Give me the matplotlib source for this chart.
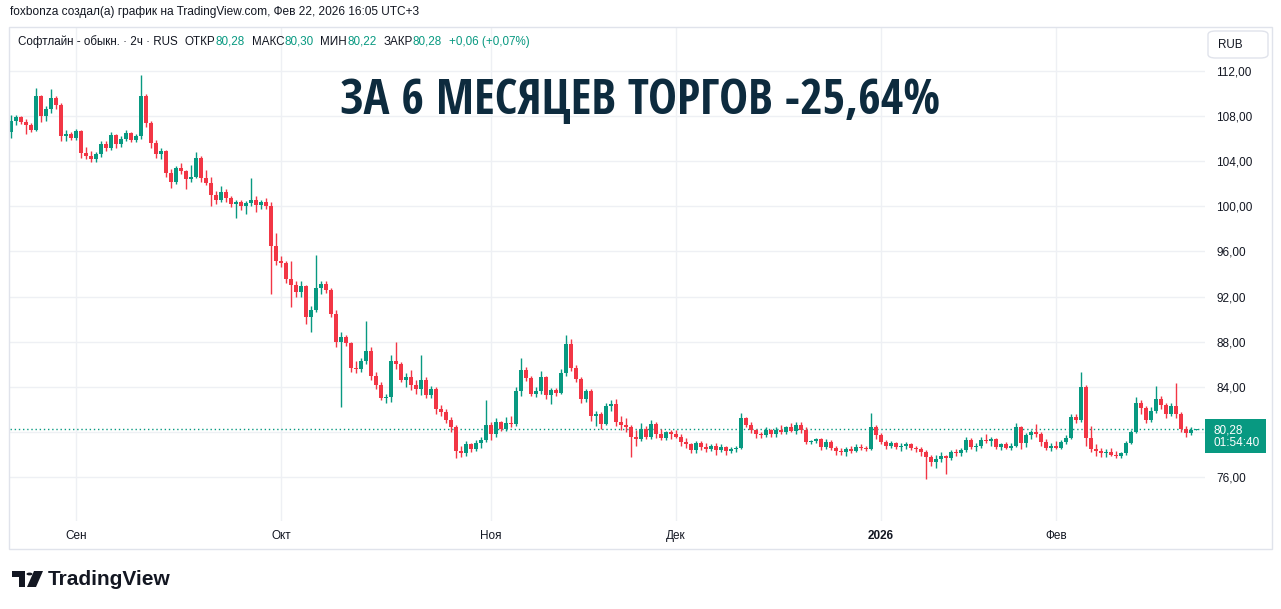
import matplotlib
matplotlib.use('Agg')
import matplotlib.pyplot as plt
import numpy as np
from matplotlib import font_manager as fm
from matplotlib.patches import FancyBboxPatch, Rectangle, Polygon, Circle
from matplotlib.ticker import FuncFormatter

# ---- data: 2h candles, Софтлайн (SOFL), Aug 2025 - Feb 2026 ----
opens = [
    106.6, 107.6, 107.9, 107.5, 107.2, 106.8, 109.8, 108.0, 108.6, 109.6,
    109.0, 106.2, 106.4, 106.1, 106.7, 104.7, 104.5, 104.2, 104.6, 105.5,
    105.2, 106.3, 105.5, 106.0, 106.5, 105.9, 106.2, 109.8, 107.4, 105.6,
    104.6, 104.9, 103.0, 102.2, 103.4, 103.1, 102.4, 102.6, 104.3, 102.5,
    102.1, 101.0, 100.6, 101.3, 100.7, 100.2, 100.4, 100.0, 100.3, 100.6,
    100.1, 100.4, 100.0, 96.5, 95.2, 95.0, 93.6, 93.0, 92.4, 92.9,
    90.2, 90.8, 92.8, 93.1, 92.6, 90.5, 88.0, 88.4, 87.9, 85.7,
    85.6, 86.3, 87.2, 85.0, 84.2, 83.0, 83.1, 86.3, 86.0, 84.6,
    84.9, 84.2, 83.8, 84.6, 83.3, 83.8, 82.0, 81.8, 81.1, 80.4,
    78.3, 78.1, 78.9, 78.5, 79.0, 79.3, 80.6, 79.8, 80.9, 80.3,
    80.8, 80.7, 83.6, 85.5, 84.8, 83.4, 83.6, 84.9, 83.3, 83.7,
    83.5, 85.2, 87.8, 85.7, 84.7, 82.9, 83.6, 81.4, 81.6, 80.7,
    82.3, 82.5, 80.9, 80.6, 80.4, 79.6, 79.4, 80.3, 79.6, 80.7,
    79.8, 79.5, 80.0, 79.8, 79.6, 79.1, 78.9, 78.4, 79.0, 78.7,
    78.5, 78.8, 78.4, 78.7, 78.3, 78.5, 78.6, 81.2, 80.6, 80.2,
    79.8, 79.7, 80.2, 79.8, 80.2, 80.0, 80.4, 80.1, 80.6, 80.2,
    79.1, 79.2, 79.4, 78.7, 79.1, 78.6, 78.3, 78.2, 78.5, 78.3,
    78.7, 78.6, 78.5, 80.4, 79.7, 79.1, 78.8, 79.0, 78.7, 78.8,
    78.9, 78.6, 78.5, 78.2, 77.8, 77.3, 77.6, 77.9, 77.7, 78.2,
    78.1, 78.4, 79.3, 78.7, 78.8, 79.3, 79.2, 79.4, 78.7, 78.9,
    78.6, 78.8, 80.4, 79.0, 79.7, 80.0, 79.8, 79.1, 78.6, 78.8,
    78.6, 79.1, 79.5, 81.3, 81.1, 84.0, 79.5, 78.5, 78.3, 78.1,
    78.2, 78.0, 77.9, 78.1, 79.0, 80.0, 82.6, 82.1, 81.1, 81.9,
    82.9, 82.4, 81.6, 82.3, 81.6, 80.3, 79.9, 80.2,
]
highs = [
    108.1, 108.1, 108.0, 107.7, 107.4, 110.5, 109.9, 108.9, 110.4, 109.8,
    109.2, 106.8, 106.6, 106.9, 106.8, 105.3, 104.9, 104.8, 105.8, 105.8,
    106.6, 106.4, 106.2, 106.8, 106.6, 106.4, 111.6, 110.0, 107.6, 105.9,
    105.2, 105.0, 103.3, 103.6, 103.8, 103.2, 103.7, 104.8, 104.5, 103.2,
    102.6, 101.4, 101.8, 101.5, 100.9, 100.6, 100.6, 100.5, 102.5, 100.9,
    100.6, 100.7, 100.4, 97.6, 95.6, 95.2, 95.2, 93.4, 93.4, 93.0,
    91.2, 95.7, 93.4, 93.4, 92.8, 90.8, 88.9, 88.6, 88.0, 86.3,
    86.6, 89.8, 87.5, 85.3, 84.4, 83.4, 86.8, 88.0, 86.2, 85.2,
    85.5, 84.6, 86.8, 84.9, 84.1, 84.0, 82.4, 82.0, 81.3, 80.6,
    78.8, 79.2, 79.0, 79.3, 79.6, 82.8, 80.9, 81.2, 81.0, 81.3,
    81.4, 84.0, 86.6, 85.8, 85.0, 84.0, 85.4, 85.0, 83.9, 83.9,
    85.6, 88.6, 88.2, 85.9, 84.9, 83.8, 83.8, 81.9, 81.8, 82.6,
    82.8, 82.9, 81.4, 81.2, 80.6, 80.2, 80.8, 80.5, 81.1, 80.9,
    80.3, 80.1, 80.2, 80.2, 79.8, 79.5, 79.0, 79.2, 79.2, 79.0,
    78.9, 79.0, 78.9, 78.8, 78.7, 78.8, 81.7, 81.3, 80.9, 80.3,
    80.0, 80.4, 80.3, 80.4, 80.6, 80.5, 80.8, 80.9, 80.9, 80.4,
    79.3, 79.5, 79.5, 79.4, 79.3, 78.8, 78.6, 78.7, 78.8, 78.9,
    78.9, 78.8, 81.7, 80.6, 79.9, 79.3, 79.2, 79.1, 79.0, 79.1,
    79.0, 78.8, 78.7, 78.4, 78.0, 78.0, 78.2, 78.0, 78.4, 78.5,
    78.6, 79.6, 79.5, 79.0, 79.6, 79.8, 79.6, 79.5, 79.0, 79.1,
    79.0, 80.8, 80.5, 79.9, 80.2, 80.7, 80.0, 79.4, 79.0, 79.2,
    79.3, 79.7, 81.6, 81.6, 85.3, 84.2, 80.5, 78.9, 78.6, 78.5,
    78.6, 78.3, 78.2, 79.2, 80.2, 83.1, 82.8, 82.3, 82.2, 84.1,
    83.2, 82.6, 82.6, 84.3, 81.8, 80.5, 80.4, 80.3,
]
lows = [
    106.1, 107.2, 107.3, 106.4, 106.6, 106.7, 107.5, 107.6, 108.3, 108.6,
    105.8, 105.8, 105.9, 105.9, 104.3, 104.2, 103.9, 103.9, 104.4, 104.9,
    105.0, 105.2, 105.3, 105.8, 105.7, 105.7, 106.0, 107.0, 105.2, 104.3,
    104.2, 102.6, 101.6, 102.0, 102.9, 101.5, 102.2, 102.5, 102.2, 101.9,
    100.0, 100.2, 100.4, 100.4, 99.9, 99.0, 99.7, 99.3, 100.0, 99.5,
    99.8, 99.8, 92.2, 94.8, 94.6, 93.2, 91.1, 92.0, 92.0, 89.6,
    88.9, 90.6, 92.2, 92.3, 90.2, 87.5, 82.2, 87.6, 85.3, 85.2,
    85.3, 86.0, 84.6, 83.8, 82.8, 82.6, 82.7, 85.6, 84.4, 84.0,
    83.7, 83.4, 83.3, 83.0, 83.0, 81.6, 81.4, 80.8, 80.0, 77.7,
    77.8, 77.9, 78.2, 78.3, 78.6, 79.1, 79.3, 79.6, 80.1, 80.1,
    80.4, 80.5, 83.2, 84.5, 83.2, 83.1, 83.4, 82.9, 82.5, 83.2,
    83.4, 85.0, 85.4, 84.4, 82.6, 82.7, 81.0, 80.5, 80.3, 80.6,
    81.9, 80.5, 80.2, 80.0, 77.8, 78.8, 79.2, 79.4, 79.4, 79.5,
    79.3, 79.3, 79.4, 79.5, 78.8, 78.6, 78.1, 78.1, 78.4, 78.2,
    78.3, 78.0, 78.2, 78.0, 78.1, 78.2, 78.5, 80.4, 79.9, 79.5,
    79.5, 79.6, 79.6, 79.6, 79.8, 79.8, 80.0, 79.8, 79.9, 78.9,
    78.9, 79.0, 78.4, 78.5, 78.4, 78.0, 78.0, 77.9, 78.1, 78.2,
    78.4, 78.3, 78.4, 79.4, 78.9, 78.5, 78.6, 78.5, 78.3, 78.5,
    78.4, 78.2, 77.9, 75.8, 77.0, 76.8, 77.3, 76.3, 77.5, 77.9,
    77.9, 78.2, 78.5, 78.3, 78.6, 79.0, 78.8, 78.5, 78.4, 78.5,
    78.4, 78.7, 78.5, 78.7, 79.4, 79.6, 78.8, 78.4, 78.3, 78.5,
    78.5, 78.9, 79.4, 80.8, 80.9, 78.8, 78.2, 77.9, 77.8, 77.8,
    77.9, 77.7, 77.7, 78.0, 78.9, 79.9, 81.6, 80.8, 80.9, 81.7,
    82.0, 81.2, 81.4, 81.2, 80.0, 79.6, 79.7, 80.2,
]
closes = [
    107.6, 107.9, 107.5, 107.2, 106.8, 109.8, 108.0, 108.6, 109.6, 109.0,
    106.2, 106.4, 106.1, 106.7, 104.7, 104.5, 104.2, 104.6, 105.5, 105.2,
    106.3, 105.5, 106.0, 106.5, 105.9, 106.2, 109.8, 107.4, 105.6, 104.6,
    104.9, 103.0, 102.2, 103.4, 103.1, 102.4, 102.6, 104.3, 102.5, 102.1,
    101.0, 100.6, 101.3, 100.7, 100.2, 100.4, 100.0, 100.3, 100.6, 100.1,
    100.4, 100.0, 96.5, 95.2, 95.0, 93.6, 93.0, 92.4, 92.9, 90.2,
    90.8, 92.8, 93.1, 92.6, 90.5, 88.0, 88.4, 87.9, 85.7, 85.6,
    86.3, 87.2, 85.0, 84.2, 83.0, 83.1, 86.3, 86.0, 84.6, 84.9,
    84.2, 83.8, 84.6, 83.3, 83.8, 82.0, 81.8, 81.1, 80.4, 78.3,
    78.1, 78.9, 78.5, 79.0, 79.3, 80.6, 79.8, 80.9, 80.3, 80.8,
    80.7, 83.6, 85.5, 84.8, 83.4, 83.6, 84.9, 83.3, 83.7, 83.5,
    85.2, 87.8, 85.7, 84.7, 82.9, 83.6, 81.4, 81.6, 80.7, 82.3,
    82.5, 80.9, 80.6, 80.4, 79.6, 79.4, 80.3, 79.6, 80.7, 79.8,
    79.5, 80.0, 79.8, 79.6, 79.1, 78.9, 78.4, 79.0, 78.7, 78.5,
    78.8, 78.4, 78.7, 78.3, 78.5, 78.6, 81.2, 80.6, 80.2, 79.8,
    79.7, 80.2, 79.8, 80.2, 80.0, 80.4, 80.1, 80.6, 80.2, 79.1,
    79.2, 79.4, 78.7, 79.1, 78.6, 78.3, 78.2, 78.5, 78.3, 78.7,
    78.6, 78.5, 80.4, 79.7, 79.1, 78.8, 79.0, 78.7, 78.8, 78.9,
    78.6, 78.5, 78.2, 77.8, 77.3, 77.6, 77.9, 77.7, 78.2, 78.1,
    78.4, 79.3, 78.7, 78.8, 79.3, 79.2, 79.4, 78.7, 78.9, 78.6,
    78.8, 80.4, 79.0, 79.7, 80.0, 79.8, 79.1, 78.6, 78.8, 78.6,
    79.1, 79.5, 81.3, 81.1, 84.0, 79.5, 78.5, 78.3, 78.1, 78.2,
    78.0, 77.9, 78.1, 79.0, 80.0, 82.6, 82.1, 81.1, 81.9, 82.9,
    82.4, 81.6, 82.3, 81.6, 80.3, 79.9, 80.2, 80.28,
]

# first bar of each month (bar index) and its label
month_pos = [13, 54, 96, 133, 174, 209]
month_labels = ['Сен', 'Окт', 'Ноя', 'Дек', '2026', 'Фев']
price_ticks = [76, 80, 84, 88, 92, 96, 100, 104, 108, 112]

title = 'ЗА 6 МЕСЯЦЕВ ТОРГОВ -25,64%'
header = 'foxbonza создал(а) график на TradingView.com, Фев 22, 2026 16:05 UTC+3'
legend_pieces = [
    ('Софтлайн - обыкн. · 2ч · RUS', 'text'), ('ОТКР', 'text'), ('80,28', 'val'),
    ('МАКС', 'text'), ('80,30', 'val'), ('МИН', 'text'), ('80,22', 'val'),
    ('ЗАКР', 'text'), ('80,28', 'val'), ('+0,06 (+0,07%)', 'val'),
]
countdown = '01:54:40'

GREEN = '#089981'
RED = '#F23645'
TEXT = '#131722'
GRID = '#eef0f4'
FONT = 'Liberation Sans'

W, H = 1281, 609


def fx(x):
    return x / W


def fy(y):
    return 1 - y / H


def pick_font(names):
    for n in names:
        try:
            fm.findfont(fm.FontProperties(family=n, weight='bold'), fallback_to_default=False)
            return n
        except Exception:
            pass
    return 'DejaVu Sans'


def price_fmt(v, pos):
    # the 80,00 label sits under the last-price box, as in the screenshot
    if abs(v - 80) < 1e-6:
        return ''
    return f'{v:.2f}'.replace('.', ',')


fig = plt.figure(figsize=(W / 100, H / 100), dpi=100)
fig.patch.set_facecolor('white')
ax = fig.add_axes([fx(10), fy(521), (1205 - 10) / W, (521 - 28) / H])

o = np.array(opens)
h = np.array(highs)
l = np.array(lows)
c = np.array(closes)
x = np.arange(len(c))
colors = np.where(c >= o, GREEN, RED)

ax.vlines(x, l, h, colors=colors, linewidth=1, zorder=2)
ax.bar(x, np.maximum(np.abs(c - o), 0.06), bottom=np.minimum(o, c),
       width=0.8, color=colors, linewidth=0, zorder=3)

# last price dotted line
ax.axhline(c[-1], color=GREEN, linewidth=1, linestyle=(0, (1, 2)), zorder=1)

ax.set_xlim(-0.2, len(c) + 0.8)
ax.set_ylim(72.11, 115.81)

ax.set_xticks(month_pos)
ax.set_xticklabels(month_labels)
ax.yaxis.tick_right()
ax.set_yticks(price_ticks)
ax.yaxis.set_major_formatter(FuncFormatter(price_fmt))
ax.tick_params(axis='y', length=0, pad=8, labelsize=8.5, labelcolor=TEXT)
ax.tick_params(axis='x', length=0, pad=13, labelsize=8.5, labelcolor=TEXT)
for t in ax.get_xticklabels() + ax.get_yticklabels():
    t.set_family(FONT)
for t in ax.get_xticklabels():
    t.set_verticalalignment('baseline')
    if t.get_text() == '2026':
        t.set_fontweight('bold')
for t in ax.get_yticklabels():
    t.set_horizontalalignment('left')

ax.grid(True, color=GRID, linewidth=1)
ax.set_axisbelow(True)
for s in ax.spines.values():
    s.set_visible(False)

# outer chart frame
fig.patches.append(Rectangle((fx(9), fy(549)), (1272 - 9) / W, (549 - 27) / H,
                             transform=fig.transFigure, fill=False,
                             edgecolor='#e0e3eb', linewidth=1, zorder=0))

renderer = fig.canvas.get_renderer()

# header lines
fig.text(fx(10), fy(12), header, fontsize=8.6, color=TEXT, family=FONT,
         ha='left', va='center')
xpos = 18
for i, (s, kind) in enumerate(legend_pieces):
    t = fig.text(fx(xpos), fy(42), s, fontsize=8.4, family=FONT, ha='left', va='center',
                 color=GREEN if kind == 'val' else TEXT)
    xpos += t.get_window_extent(renderer).width
    if kind == 'val' or i == 0:
        xpos += 7

# title, scaled to the width it has in the screenshot
tfont = pick_font(['Liberation Sans Narrow', 'Open Sans Condensed', 'Roboto Condensed',
                   'Liberation Sans'])
tt = fig.text(fx(640), fy(102), title, fontsize=30, fontweight='bold', family=tfont,
              color='#0d2b3e', ha='center', va='center')
tw = tt.get_window_extent(renderer).width
tt.set_fontsize(30 * 600 / tw)

# RUB box
fig.patches.append(FancyBboxPatch((fx(1208), fy(58)), 60 / W, 27 / H,
                                  boxstyle='round,pad=0,rounding_size=0.006',
                                  transform=fig.transFigure, facecolor='white',
                                  edgecolor='#e0e3eb', linewidth=1, zorder=5))
fig.text(fx(1218), fy(44.5), 'RUB', fontsize=8.4, family=FONT, color=TEXT,
         ha='left', va='center', zorder=6)

# last price label box
py = H - ax.transData.transform((0, c[-1]))[1]
fig.patches.append(Rectangle((fx(1205), fy(py + 24)), 61 / W, 34 / H,
                             transform=fig.transFigure, facecolor=GREEN,
                             edgecolor='none', zorder=5))
fig.text(fx(1213), fy(py + 1.5), f'{c[-1]:.2f}'.replace('.', ','), fontsize=8.5,
         family=FONT, color='white', ha='left', va='center', zorder=6)
fig.text(fx(1213), fy(py + 14.5), countdown, fontsize=8.5, family=FONT,
         color='white', ha='left', va='center', zorder=6)

# TradingView logo
logo = '#131722'
fig.patches.append(Polygon([(fx(12), fy(571)), (fx(25), fy(571)), (fx(25), fy(587)),
                            (fx(18.5), fy(587)), (fx(18.5), fy(577)), (fx(12), fy(577))],
                           closed=True, transform=fig.transFigure, facecolor=logo,
                           edgecolor='none'))
fig.patches.append(Circle((fx(29.5), fy(574)), 3 / W, transform=fig.transFigure,
                          facecolor=logo, edgecolor='none'))
fig.patches.append(Polygon([(fx(34), fy(571)), (fx(43), fy(571)), (fx(36), fy(587)),
                            (fx(27), fy(587))], closed=True, transform=fig.transFigure,
                           facecolor=logo, edgecolor='none'))
fig.text(fx(48), fy(579.5), 'TradingView', fontsize=15, fontweight='bold', family=FONT,
         color=logo, ha='left', va='center')

fig.savefig('out.png', dpi=100)
